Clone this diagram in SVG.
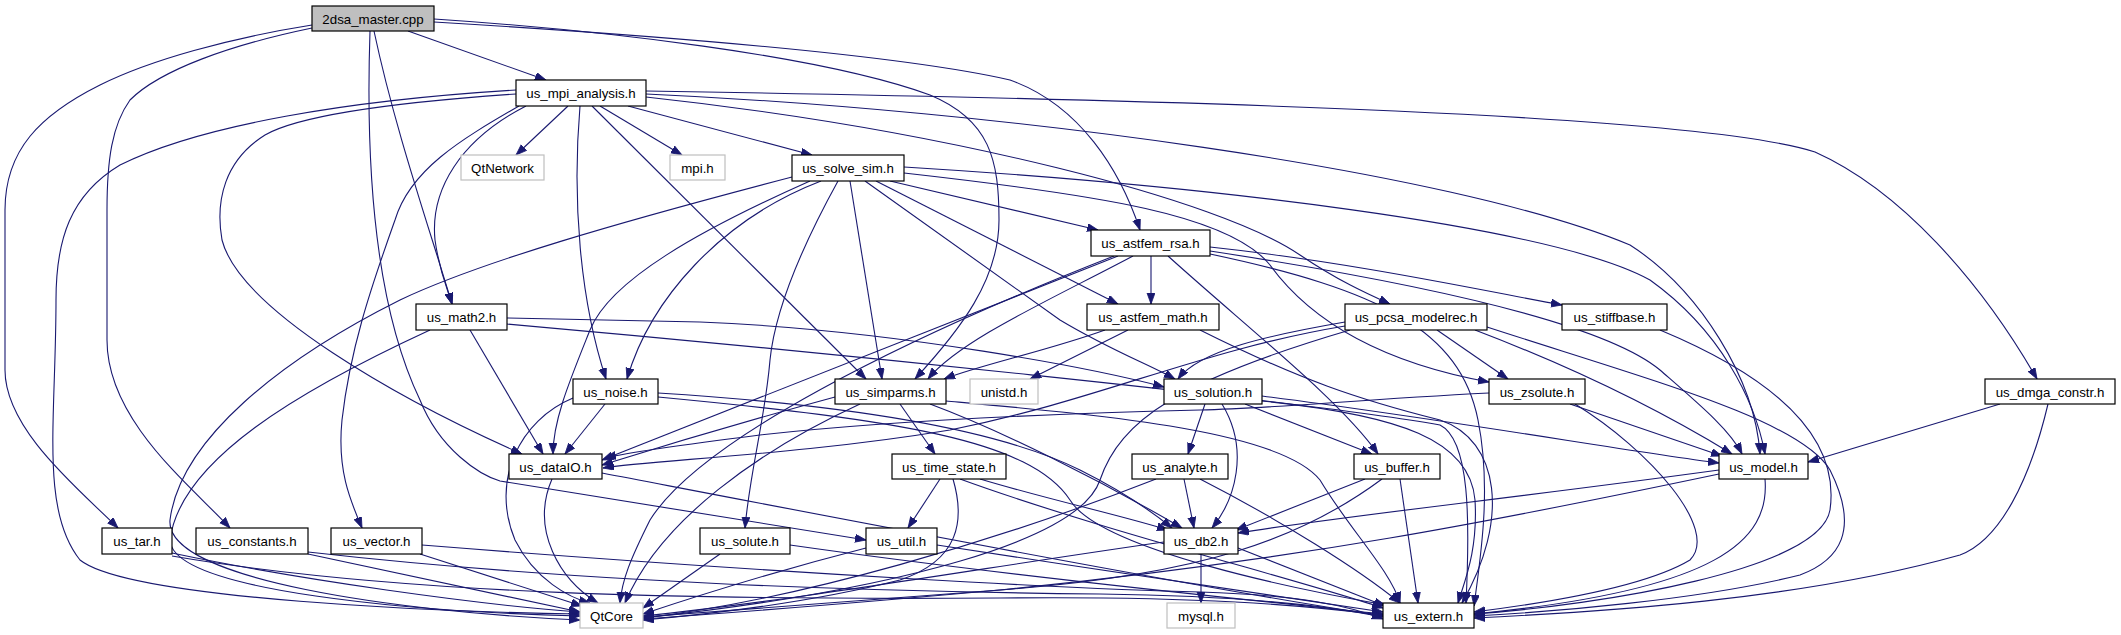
<svg xmlns="http://www.w3.org/2000/svg" width="2121" height="635" viewBox="0 0 2121 635">
<style>
.n rect{fill:#fff;stroke:#000;stroke-width:1.2}
.n.g rect{stroke:#bfbfbf}
.n.m rect{fill:#bfbfbf}
.n text{font-family:"Liberation Sans",Arial,sans-serif;font-size:13.3px;text-anchor:middle;fill:#000}
#edges path{fill:none;stroke:#191970;stroke-width:1.1;marker-end:url(#arr)}
</style>
<defs>
<marker id="arr" markerUnits="userSpaceOnUse" markerWidth="12" markerHeight="9" refX="11" refY="4" orient="auto">
<path d="M0,0 L11,4 L0,8 z" fill="#191970" stroke="#191970" stroke-width="0.8"/>
</marker>
</defs>
<rect width="2121" height="635" fill="#fff"/>
<g id="edges">
<path d="M408,31 L546,80"/>
<path d="M312,25 C230,38 150,60 100,85 C40,115 5,150 5,210 L5,370 C5,430 80,490 118,528"/>
<path d="M312,28 C230,45 160,70 130,100 C112,125 107,160 107,210 L107,340 C107,420 190,485 230,528"/>
<path d="M374,31 C395,130 430,230 452,304"/>
<path d="M370,31 C366,150 372,300 420,400 C440,450 480,475 500,481 L866,540"/>
<path d="M434,19 C600,30 820,55 930,95 C990,120 999,160 999,220 C999,280 960,330 915,379"/>
<path d="M434,22 C650,35 900,55 1010,80 C1080,105 1120,170 1140,230"/>
<path d="M568,106 L516,155"/>
<path d="M600,106 L682,155"/>
<path d="M628,106 L812,155"/>
<path d="M526,106 C460,140 430,190 435,240 C440,275 448,290 452,304"/>
<path d="M519,106 C460,140 410,170 395,220 C370,290 350,350 342,420 C337,470 350,500 362,528"/>
<path d="M516,94 C400,102 300,115 265,135 C225,160 215,200 222,240 C240,310 400,400 522,454"/>
<path d="M516,90 C350,100 200,125 120,165 C70,195 56,240 56,300 C56,420 40,510 80,560 C130,600 450,612 580,614"/>
<path d="M580,106 C572,200 580,300 606,379"/>
<path d="M592,106 L866,379"/>
<path d="M646,97 C950,130 1220,200 1300,255 C1340,282 1370,295 1390,304"/>
<path d="M646,94 C1000,110 1450,170 1630,245 C1700,290 1755,380 1760,454"/>
<path d="M646,91 C1200,100 1700,115 1815,152 C1900,190 1980,280 2037,379"/>
<path d="M890,181 L1098,230"/>
<path d="M876,181 L1118,304"/>
<path d="M865,181 L1060,320 C1110,350 1150,365 1175,379"/>
<path d="M850,181 L882,379"/>
<path d="M838,181 C800,250 775,310 770,360 C765,420 750,470 745,528"/>
<path d="M821,181 C720,220 650,300 627,379"/>
<path d="M810,181 C700,230 610,280 590,330 C570,380 553,420 553,454"/>
<path d="M792,177 C620,222 480,262 400,300 C280,360 180,440 170,520 C165,580 400,612 580,620"/>
<path d="M904,167 C1200,185 1550,225 1650,280 C1720,330 1755,400 1765,454"/>
<path d="M904,173 C1100,195 1230,215 1270,265 C1310,320 1380,362 1489,382"/>
<path d="M1151,256 L1151,304"/>
<path d="M1133,256 C1050,300 960,340 928,379"/>
<path d="M1118,256 L602,460"/>
<path d="M1114,256 C900,340 700,440 650,520 C630,560 622,580 620,603"/>
<path d="M1168,256 C1250,330 1340,400 1378,454"/>
<path d="M1210,247 C1350,262 1480,290 1562,305"/>
<path d="M1210,251 C1400,280 1600,320 1660,370 C1700,405 1730,430 1742,454"/>
<path d="M1210,254 C1380,290 1460,330 1478,420 C1492,490 1480,560 1474,606"/>
<path d="M470,330 L543,454"/>
<path d="M430,330 C300,390 180,460 170,540 C172,592 420,612 580,616"/>
<path d="M507,318 L700,322 C900,330 1100,370 1164,387"/>
<path d="M507,324 C800,350 1300,400 1440,425 C1470,440 1470,520 1466,603"/>
<path d="M605,404 L565,454"/>
<path d="M573,398 C520,420 490,480 515,540 C535,580 570,598 590,603"/>
<path d="M658,393 C850,405 1000,430 1080,470 C1120,490 1150,510 1172,528"/>
<path d="M658,397 C900,420 1030,440 1070,500 C1100,550 1300,590 1386,605"/>
<path d="M835,397 C750,420 650,450 602,465"/>
<path d="M900,404 L935,454"/>
<path d="M930,404 C1000,430 1100,480 1182,528"/>
<path d="M860,404 C760,450 660,520 625,603"/>
<path d="M946,401 C1100,415 1280,430 1320,480 C1350,530 1390,570 1400,603"/>
<path d="M1205,404 L1188,454"/>
<path d="M1222,404 C1250,450 1235,500 1212,528"/>
<path d="M1245,404 L1372,454"/>
<path d="M1262,396 C1450,420 1620,450 1719,463"/>
<path d="M1262,401 C1400,415 1470,440 1475,500 C1478,550 1465,580 1458,603"/>
<path d="M940,479 L908,528"/>
<path d="M980,479 C1050,500 1120,515 1168,530"/>
<path d="M960,479 C1100,530 1300,580 1383,608"/>
<path d="M953,479 C965,520 960,560 900,580 C800,605 700,615 643,620"/>
<path d="M1184,479 L1194,528"/>
<path d="M1200,479 C1280,520 1360,570 1400,603"/>
<path d="M1156,479 C1000,540 800,600 643,618"/>
<path d="M1365,479 L1236,530"/>
<path d="M1400,479 L1418,603"/>
<path d="M1382,479 C1300,540 1200,575 1000,590 C800,605 700,612 643,617"/>
<path d="M1201,554 L1201,603"/>
<path d="M1238,548 L1385,606"/>
<path d="M1164,542 C1000,565 800,600 643,616"/>
<path d="M937,545 C1100,570 1300,600 1383,612"/>
<path d="M866,548 C780,570 700,595 643,614"/>
<path d="M790,545 C1000,575 1250,600 1383,614"/>
<path d="M720,554 L643,608"/>
<path d="M552,479 C530,530 560,580 598,603"/>
<path d="M602,473 C900,530 1200,588 1383,616"/>
<path d="M172,553 C300,580 480,605 580,612"/>
<path d="M172,556 C400,595 700,600 1000,598 C1200,596 1300,605 1383,615"/>
<path d="M308,554 L580,612"/>
<path d="M308,552 C600,585 900,592 1100,594 C1250,596 1330,606 1383,617"/>
<path d="M420,554 L582,606"/>
<path d="M422,545 C800,575 1100,590 1200,592 C1300,595 1350,606 1383,619"/>
<path d="M1570,404 L1722,456"/>
<path d="M1575,404 C1650,450 1720,530 1690,560 C1640,590 1530,605 1474,612"/>
<path d="M1489,393 C1350,400 1280,408 1200,410 C1000,415 850,425 760,435 C680,445 630,452 605,458"/>
<path d="M1719,470 C1500,500 1350,515 1238,533"/>
<path d="M1719,474 C1500,520 1300,560 1000,590 C800,608 700,615 643,619"/>
<path d="M1765,479 C1770,540 1720,590 1474,614"/>
<path d="M1437,330 L1508,379"/>
<path d="M1475,330 C1580,370 1660,410 1732,454"/>
<path d="M1487,327 C1650,380 1800,420 1830,470 C1860,530 1840,560 1800,575 C1700,600 1550,612 1474,616"/>
<path d="M1345,322 C1270,335 1200,350 1178,379"/>
<path d="M1345,326 C1200,350 1100,400 950,430 C800,455 650,460 603,468"/>
<path d="M1350,330 C1180,380 1120,420 1100,480 C1080,540 900,590 643,618"/>
<path d="M1660,330 C1780,380 1840,440 1830,510 C1820,570 1600,605 1474,614"/>
<path d="M2000,404 L1808,462"/>
<path d="M2048,404 C2030,480 2000,540 1960,555 C1800,600 1600,612 1474,618"/>
<path d="M1128,330 L1030,379"/>
<path d="M1105,330 C1050,350 980,365 944,379"/>
<path d="M1200,330 C1300,380 1360,400 1440,420 C1500,440 1510,520 1462,603"/>
</g>
<g id="n_master" class="n m"><rect x="312" y="6" width="122" height="25"/><text x="373" y="23.5">2dsa_master.cpp</text></g>
<g id="n_mpi" class="n"><rect x="516" y="80" width="130" height="26"/><text x="581" y="98">us_mpi_analysis.h</text></g>
<g id="n_qtnet" class="n g"><rect x="461" y="155" width="83" height="25"/><text x="502.5" y="172.5">QtNetwork</text></g>
<g id="n_mpih" class="n g"><rect x="670" y="155" width="55" height="25"/><text x="697.5" y="172.5">mpi.h</text></g>
<g id="n_solve" class="n"><rect x="792" y="155" width="112" height="26"/><text x="848" y="173">us_solve_sim.h</text></g>
<g id="n_rsa" class="n"><rect x="1091" y="230" width="119" height="26"/><text x="1150.5" y="248">us_astfem_rsa.h</text></g>
<g id="n_math2" class="n"><rect x="416" y="304" width="91" height="26"/><text x="461.5" y="322">us_math2.h</text></g>
<g id="n_afmath" class="n"><rect x="1087" y="304" width="132" height="26"/><text x="1153" y="322">us_astfem_math.h</text></g>
<g id="n_pcsa" class="n"><rect x="1345" y="304" width="142" height="26"/><text x="1416" y="322">us_pcsa_modelrec.h</text></g>
<g id="n_stiff" class="n"><rect x="1562" y="304" width="105" height="26"/><text x="1614.5" y="322">us_stiffbase.h</text></g>
<g id="n_noise" class="n"><rect x="573" y="379" width="85" height="25"/><text x="615.5" y="396.5">us_noise.h</text></g>
<g id="n_simparms" class="n"><rect x="835" y="379" width="111" height="25"/><text x="890.5" y="396.5">us_simparms.h</text></g>
<g id="n_unistd" class="n g"><rect x="970" y="379" width="68" height="25"/><text x="1004" y="396.5">unistd.h</text></g>
<g id="n_solution" class="n"><rect x="1164" y="379" width="98" height="25"/><text x="1213" y="396.5">us_solution.h</text></g>
<g id="n_zsolute" class="n"><rect x="1489" y="379" width="96" height="25"/><text x="1537" y="396.5">us_zsolute.h</text></g>
<g id="n_dmga" class="n"><rect x="1985" y="379" width="130" height="25"/><text x="2050" y="396.5">us_dmga_constr.h</text></g>
<g id="n_dataIO" class="n"><rect x="509" y="454" width="93" height="25"/><text x="555.5" y="471.5">us_dataIO.h</text></g>
<g id="n_timestate" class="n"><rect x="892" y="454" width="114" height="25"/><text x="949" y="471.5">us_time_state.h</text></g>
<g id="n_analyte" class="n"><rect x="1132" y="454" width="96" height="25"/><text x="1180" y="471.5">us_analyte.h</text></g>
<g id="n_buffer" class="n"><rect x="1354" y="454" width="86" height="25"/><text x="1397" y="471.5">us_buffer.h</text></g>
<g id="n_model" class="n"><rect x="1719" y="454" width="89" height="25"/><text x="1763.5" y="471.5">us_model.h</text></g>
<g id="n_tar" class="n"><rect x="102" y="528" width="70" height="26"/><text x="137" y="546">us_tar.h</text></g>
<g id="n_constants" class="n"><rect x="196" y="528" width="112" height="26"/><text x="252" y="546">us_constants.h</text></g>
<g id="n_vector" class="n"><rect x="331" y="528" width="91" height="26"/><text x="376.5" y="546">us_vector.h</text></g>
<g id="n_solute" class="n"><rect x="700" y="528" width="90" height="26"/><text x="745" y="546">us_solute.h</text></g>
<g id="n_util" class="n"><rect x="866" y="528" width="71" height="26"/><text x="901.5" y="546">us_util.h</text></g>
<g id="n_db2" class="n"><rect x="1164" y="528" width="74" height="26"/><text x="1201" y="546">us_db2.h</text></g>
<g id="n_qtcore" class="n g"><rect x="580" y="603" width="63" height="25"/><text x="611.5" y="620.5">QtCore</text></g>
<g id="n_mysql" class="n g"><rect x="1167" y="603" width="68" height="25"/><text x="1201" y="620.5">mysql.h</text></g>
<g id="n_extern" class="n"><rect x="1383" y="603" width="91" height="25"/><text x="1428.5" y="620.5">us_extern.h</text></g>
</svg>
